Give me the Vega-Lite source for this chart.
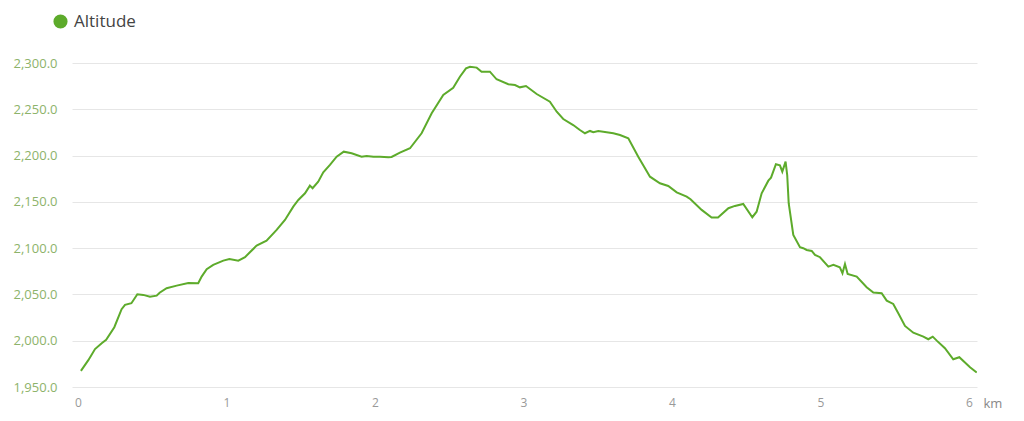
{
  "$schema": "https://vega.github.io/schema/vega-lite/v6.json",
  "width": 905,
  "height": 324,
  "autosize": "none",
  "padding": {"left": 72, "top": 63, "right": 47, "bottom": 34},
  "background": "white",
  "config": {
    "font": "Open Sans",
    "view": {"stroke": null}
  },
  "data": {
    "values": [
      {"km": 0.02, "alt": 1967.4}, {"km": 0.07, "alt": 1979}, {"km": 0.115, "alt": 1991}, {"km": 0.16, "alt": 1997.3},
      {"km": 0.19, "alt": 2000.9}, {"km": 0.245, "alt": 2014.6}, {"km": 0.294, "alt": 2034}, {"km": 0.317, "alt": 2038.7},
      {"km": 0.36, "alt": 2040.5}, {"km": 0.4, "alt": 2050.2}, {"km": 0.44, "alt": 2049.5}, {"km": 0.485, "alt": 2047.6},
      {"km": 0.53, "alt": 2048.7}, {"km": 0.55, "alt": 2051.9}, {"km": 0.597, "alt": 2056.7}, {"km": 0.665, "alt": 2059.5},
      {"km": 0.743, "alt": 2062.4}, {"km": 0.81, "alt": 2062}, {"km": 0.833, "alt": 2069.3}, {"km": 0.867, "alt": 2077.2},
      {"km": 0.911, "alt": 2081.9}, {"km": 0.979, "alt": 2086.5}, {"km": 1.02, "alt": 2088.3}, {"km": 1.08, "alt": 2086.5},
      {"km": 1.125, "alt": 2090.2}, {"km": 1.158, "alt": 2095.6}, {"km": 1.203, "alt": 2102.7}, {"km": 1.27, "alt": 2108.1},
      {"km": 1.338, "alt": 2119.7}, {"km": 1.394, "alt": 2130.5}, {"km": 1.45, "alt": 2144.8}, {"km": 1.484, "alt": 2152},
      {"km": 1.529, "alt": 2159.3}, {"km": 1.562, "alt": 2167.5}, {"km": 1.58, "alt": 2164.7}, {"km": 1.618, "alt": 2171.8},
      {"km": 1.652, "alt": 2182}, {"km": 1.697, "alt": 2189.9}, {"km": 1.742, "alt": 2198.8}, {"km": 1.79, "alt": 2204.2},
      {"km": 1.843, "alt": 2202.5}, {"km": 1.91, "alt": 2198.8}, {"km": 1.944, "alt": 2199.6}, {"km": 1.99, "alt": 2198.8},
      {"km": 2.034, "alt": 2198.6}, {"km": 2.09, "alt": 2198.2}, {"km": 2.112, "alt": 2198.5}, {"km": 2.168, "alt": 2203.1},
      {"km": 2.236, "alt": 2207.9}, {"km": 2.314, "alt": 2224.1}, {"km": 2.382, "alt": 2245.7}, {"km": 2.46, "alt": 2265.4},
      {"km": 2.527, "alt": 2273.3}, {"km": 2.572, "alt": 2285.2}, {"km": 2.613, "alt": 2294.2}, {"km": 2.64, "alt": 2296},
      {"km": 2.685, "alt": 2295}, {"km": 2.718, "alt": 2290.6}, {"km": 2.774, "alt": 2290.6}, {"km": 2.819, "alt": 2282.4},
      {"km": 2.898, "alt": 2277}, {"km": 2.943, "alt": 2276.2}, {"km": 2.976, "alt": 2273.7}, {"km": 3.017, "alt": 2275.1},
      {"km": 3.089, "alt": 2266.5}, {"km": 3.178, "alt": 2258.2}, {"km": 3.224, "alt": 2247.4}, {"km": 3.268, "alt": 2239.5},
      {"km": 3.335, "alt": 2233}, {"km": 3.38, "alt": 2227.6}, {"km": 3.414, "alt": 2224.1}, {"km": 3.448, "alt": 2226.6},
      {"km": 3.47, "alt": 2225.2}, {"km": 3.504, "alt": 2226.6}, {"km": 3.605, "alt": 2224.1}, {"km": 3.65, "alt": 2222.2},
      {"km": 3.706, "alt": 2218.7}, {"km": 3.773, "alt": 2198.8}, {"km": 3.852, "alt": 2177.2}, {"km": 3.919, "alt": 2170.1},
      {"km": 3.975, "alt": 2167.2}, {"km": 4.032, "alt": 2160.3}, {"km": 4.099, "alt": 2155.6}, {"km": 4.125, "alt": 2152.8},
      {"km": 4.2, "alt": 2141.3}, {"km": 4.267, "alt": 2133}, {"km": 4.31, "alt": 2133}, {"km": 4.38, "alt": 2143.1},
      {"km": 4.424, "alt": 2145.6}, {"km": 4.48, "alt": 2147.7}, {"km": 4.541, "alt": 2133.4}, {"km": 4.57, "alt": 2139.4},
      {"km": 4.604, "alt": 2159.3}, {"km": 4.649, "alt": 2172.9}, {"km": 4.667, "alt": 2176.1}, {"km": 4.7, "alt": 2190.6},
      {"km": 4.727, "alt": 2189.5}, {"km": 4.743, "alt": 2182.6}, {"km": 4.765, "alt": 2193.4}, {"km": 4.776, "alt": 2179},
      {"km": 4.786, "alt": 2148.5}, {"km": 4.817, "alt": 2114.3}, {"km": 4.862, "alt": 2101}, {"km": 4.884, "alt": 2099.9},
      {"km": 4.907, "alt": 2098}, {"km": 4.941, "alt": 2097}, {"km": 4.963, "alt": 2092.7}, {"km": 4.997, "alt": 2090.2},
      {"km": 5.053, "alt": 2080}, {"km": 5.087, "alt": 2081.9}, {"km": 5.13, "alt": 2079.4}, {"km": 5.148, "alt": 2072.9},
      {"km": 5.165, "alt": 2082.9}, {"km": 5.183, "alt": 2072.1}, {"km": 5.244, "alt": 2069.3}, {"km": 5.311, "alt": 2057.8},
      {"km": 5.356, "alt": 2052}, {"km": 5.412, "alt": 2051.3}, {"km": 5.446, "alt": 2043.3}, {"km": 5.49, "alt": 2039.7},
      {"km": 5.524, "alt": 2029.7}, {"km": 5.569, "alt": 2016}, {"km": 5.625, "alt": 2008.7}, {"km": 5.693, "alt": 2004.4},
      {"km": 5.726, "alt": 2001.6}, {"km": 5.756, "alt": 2004.4}, {"km": 5.783, "alt": 2000.1}, {"km": 5.838, "alt": 1991.9},
      {"km": 5.894, "alt": 1980}, {"km": 5.935, "alt": 1982.2}, {"km": 6.007, "alt": 1971.4}, {"km": 6.052, "alt": 1965.6}
    ]
  },
  "transform": [{"calculate": "'Altitude'", "as": "series"}],
  "mark": {"type": "line", "strokeWidth": 2, "interpolate": "linear", "clip": true},
  "encoding": {
    "x": {
      "field": "km",
      "type": "quantitative",
      "scale": {"domain": [-0.04, 6.054], "nice": false, "zero": false},
      "axis": {
        "values": [0, 1, 2, 3, 4, 5, 6],
        "grid": false,
        "domain": false,
        "ticks": false,
        "labelPadding": 10,
        "labelFontSize": 12,
        "labelColor": "#999999",
        "labelFlush": false,
        "title": "km",
        "titleFontWeight": "normal",
        "titleFontSize": 13,
        "titleColor": "#888888",
        "titleAlign": "left",
        "titleAnchor": "start",
        "titleX": 911,
        "titleY": 16,
        "titleBaseline": "middle"
      }
    },
    "y": {
      "field": "alt",
      "type": "quantitative",
      "scale": {"domain": [1950, 2300], "nice": false, "zero": false},
      "axis": {
        "values": [1950, 2000, 2050, 2100, 2150, 2200, 2250, 2300],
        "format": ",.1f",
        "grid": true,
        "gridColor": "#e6e6e6",
        "gridWidth": 1,
        "domain": false,
        "ticks": false,
        "labelPadding": 15,
        "labelFontSize": 13,
        "labelColor": "#8db36a",
        "title": null
      }
    },
    "color": {
      "field": "series",
      "type": "nominal",
      "scale": {"range": ["#5dab2b"]},
      "legend": {
        "orient": "none",
        "legendX": -20,
        "legendY": -50,
        "title": null,
        "symbolType": "circle",
        "symbolFillColor": "#5dab2b",
        "symbolStrokeWidth": 0,
        "symbolSize": 200,
        "labelFontSize": 17,
        "labelColor": "#444444",
        "labelOffset": 5
      }
    }
  }
}
